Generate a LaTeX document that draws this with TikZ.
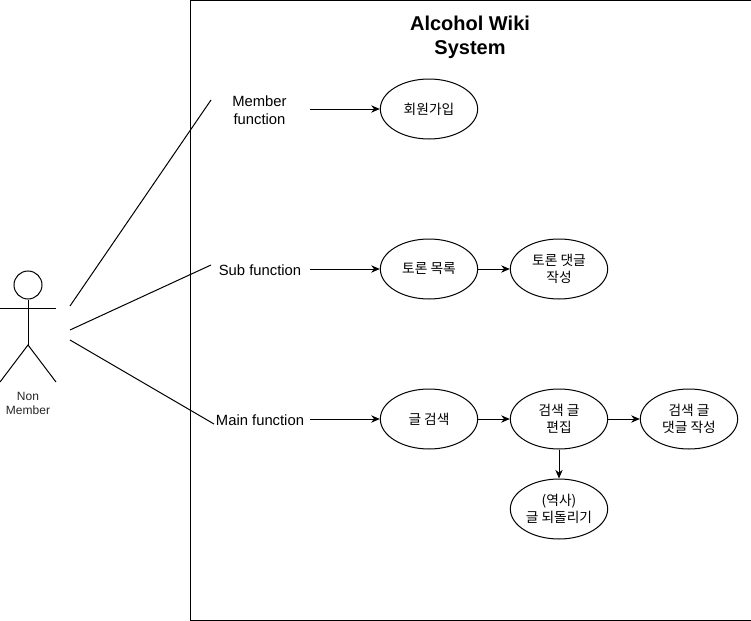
\documentclass[tikz,border=0pt]{standalone}
\usepackage{fontspec}
\setmainfont{Liberation Sans}
\newfontfamily\cjk{Noto Sans CJK KR}
\usetikzlibrary{arrows.meta,shapes.geometric}
\tikzset{
  uc/.style={draw=black,line width=0.75pt,ellipse,minimum width=73pt,minimum height=45pt,inner sep=0pt,align=center,font=\cjk\fontsize{10.3}{12.75}\selectfont},
  lbl/.style={align=center,inner sep=0pt,font=\fontsize{11.1}{13.5}\selectfont},
  flow/.style={draw=black,line width=0.75pt,-{Stealth[length=6.5pt,width=5.5pt]}},
  wire/.style={draw=black,line width=0.75pt},
  frame/.style={draw=black,line width=0.75pt,inner sep=0pt}
}
\begin{document}
\begin{tikzpicture}[x=0.75pt,y=-0.75pt]
\useasboundingbox (0,0) rectangle (751,621);
\fill[white] (0,0) rectangle (751,621);
\node[frame,minimum width=420.4pt,minimum height=465.4pt,anchor=north west] (sys) at (190,-0.5) {};
\node[align=center,inner sep=0pt,font=\bfseries\fontsize{15}{18.4}\selectfont] (title) at (470,37.5) {Alcohol Wiki\\System};
% actor
\node[draw=black,circle,line width=0.75pt,minimum size=21pt,inner sep=0pt] (head) at (28,285) {};
\coordinate (hip) at (28,345);
\coordinate (armL) at (0,308.5);
\coordinate (armR) at (55.5,308.5);
\coordinate (footL) at (0,382);
\coordinate (footR) at (56,382);
\draw[wire] (head.south) -- (hip);
\draw[wire] (armL) -- (armR);
\draw[wire] (footL) -- (hip) -- (footR);
\node[align=center,inner sep=0pt,font=\fontsize{9}{10.5}\selectfont,text=black!85] (actor) at (28,403) {Non\\Member};
% labels
\node[lbl] (mf) at (259.5,109.8) {Member\\function};
\node[lbl] (sf) at (260,269.8) {Sub function};
\node[lbl] (nf) at (260,419.8) {Main function};
% use cases
\node[uc] (a1) at (429,109) {회원가입};
\node[uc] (b1) at (429,269) {토론 목록};
\node[uc] (b2) at (559,269) {토론 댓글\\작성};
\node[uc] (c1) at (429,419) {글 검색};
\node[uc] (c2) at (559,419) {검색 글\\편집};
\node[uc] (c3) at (689,419) {검색 글\\댓글 작성};
\node[uc] (c4) at (559,509) {(역사)\\글 되돌리기};
% actor connectors
\coordinate (s1) at (70,306);
\coordinate (e1) at (211,100);
\coordinate (s2) at (70,330);
\coordinate (e2) at (211,265);
\coordinate (s3) at (70,340);
\coordinate (e3) at (214,424);
\draw[wire] (s1) -- (e1);
\draw[wire] (s2) -- (e2);
\draw[wire] (s3) -- (e3);
% flows
\coordinate (f1) at (310,109);
\coordinate (f2) at (310,269);
\coordinate (f3) at (310,419);
\draw[flow] (f1) -- (a1.west);
\draw[flow] (f2) -- (b1.west);
\draw[flow] (f3) -- (c1.west);
\draw[flow] (b1) -- (b2);
\draw[flow] (c1) -- (c2);
\draw[flow] (c2) -- (c3);
\draw[flow] (c2) -- (c4);
\end{tikzpicture}
\end{document}
